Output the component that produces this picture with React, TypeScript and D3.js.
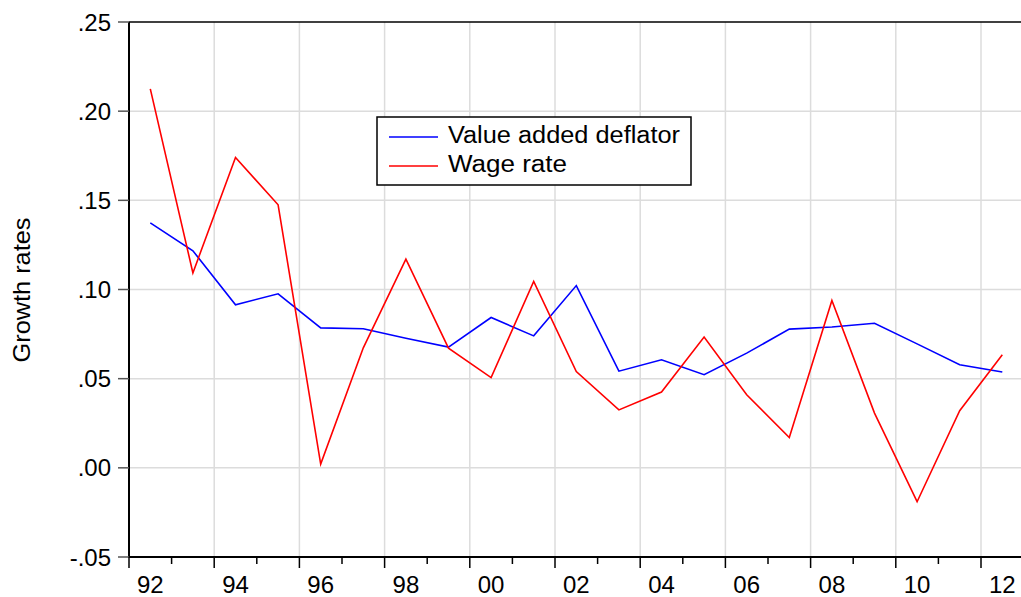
import React from "react";
import * as d3 from "d3";

const years = d3.range(1992, 2013);
const deflator = [0.1374, 0.1217, 0.0914, 0.0976, 0.0785, 0.078, 0.0727, 0.0677, 0.0843, 0.074, 0.1022, 0.0542, 0.0606, 0.0522, 0.0643, 0.0778, 0.079, 0.0811, 0.0695, 0.0578, 0.0537];
const wage = [0.2125, 0.1093, 0.174, 0.1475, 0.0021, 0.0673, 0.117, 0.0671, 0.0506, 0.1045, 0.054, 0.0325, 0.0425, 0.0733, 0.041, 0.017, 0.0938, 0.0307, -0.019, 0.032, 0.0634];
const yTicks = [-0.05, 0.0, 0.05, 0.1, 0.15, 0.2, 0.25];
const yTickLabels = ["-.05", ".00", ".05", ".10", ".15", ".20", ".25"];
const seriesNames = ["Value added deflator", "Wage rate"];
const seriesColors = ["#0000ff", "#ff0000"];
const legendTextLengths = [232, 119];

const W = 1021, H = 597;
const left = 129, top = 22, bottom = 557;
const yearW = 42.6;
const right = left + yearW * 21;

export default function App() {
  const x = d3.scaleLinear().domain([1992, 2013]).range([left, right]);
  const y = d3.scaleLinear().domain([-0.05, 0.25]).range([bottom, top]);
  const line = d3
    .line<number>()
    .x((_, i) => x(years[i] + 0.5))
    .y((d) => y(d));
  const font = "Liberation Sans, Arial, sans-serif";
  const boundaries = d3.range(1992, 2014);
  return (
    <svg
      width={W}
      height={H}
      style={{ position: "absolute", left: 0, top: 0, background: "#fff" }}
      fontFamily={font}
    >
      <rect x={0} y={0} width={W} height={H} fill="#fff" />
      {/* gridlines */}
      {yTicks.slice(1, -1).map((t) => (
        <line key={"gy" + t} x1={left} x2={right} y1={y(t)} y2={y(t)} stroke="#dcdcdc" strokeWidth={1.5} />
      ))}
      {boundaries
        .filter((b) => b % 2 === 0 && b > 1992)
        .map((b) => (
          <line key={"gx" + b} x1={x(b)} x2={x(b)} y1={top} y2={bottom} stroke="#dcdcdc" strokeWidth={1.5} />
        ))}
      {/* frame */}
      <line x1={left} x2={right} y1={top} y2={top} stroke="#000" strokeWidth={1.5} />
      <line x1={left} x2={left} y1={top} y2={bottom} stroke="#000" strokeWidth={2} />
      <line x1={left} x2={right} y1={bottom} y2={bottom} stroke="#000" strokeWidth={2} />
      {/* y ticks */}
      {yTicks.map((t, i) => (
        <g key={"yt" + t}>
          <line x1={118} x2={left} y1={y(t)} y2={y(t)} stroke="#555" strokeWidth={1.5} />
          <text x={111} y={y(t)} dy="0.36em" textAnchor="end" fontSize={24} fill="#000">
            {yTickLabels[i]}
          </text>
        </g>
      ))}
      {/* x ticks */}
      {boundaries.map((b) => (
        <line
          key={"xt" + b}
          x1={x(b)}
          x2={x(b)}
          y1={bottom}
          y2={b % 2 === 0 ? bottom + 11 : bottom + 7}
          stroke="#000"
          strokeWidth={1.5}
        />
      ))}
      {years
        .filter((yr) => yr % 2 === 0)
        .map((yr) => (
          <text key={"xl" + yr} x={x(yr + 0.5)} y={593} textAnchor="middle" fontSize={24} fill="#000">
            {String(yr % 100).padStart(2, "0")}
          </text>
        ))}
      {/* axis title */}
      <text
        transform={`translate(30,290) rotate(-90)`}
        textAnchor="middle"
        fontSize={24}
        fill="#000"
        textLength={145}
        lengthAdjust="spacingAndGlyphs"
      >
        Growth rates
      </text>
      {/* series */}
      <path d={line(deflator) || ""} fill="none" stroke={seriesColors[0]} strokeWidth={1.6} />
      <path d={line(wage) || ""} fill="none" stroke={seriesColors[1]} strokeWidth={1.6} />
      {/* legend */}
      <rect x={377} y={117} width={314} height={68} fill="#fff" stroke="#000" strokeWidth={1.5} />
      {seriesNames.map((n, i) => (
        <g key={n}>
          <line x1={389} x2={438} y1={137 + i * 29} y2={137 + i * 29} stroke={seriesColors[i]} strokeWidth={1.6} />
          <text
            x={448}
            y={142.5 + i * 29}
            fontSize={23}
            fill="#000"
            textLength={legendTextLengths[i]}
            lengthAdjust="spacingAndGlyphs"
          >
            {n}
          </text>
        </g>
      ))}
    </svg>
  );
}
